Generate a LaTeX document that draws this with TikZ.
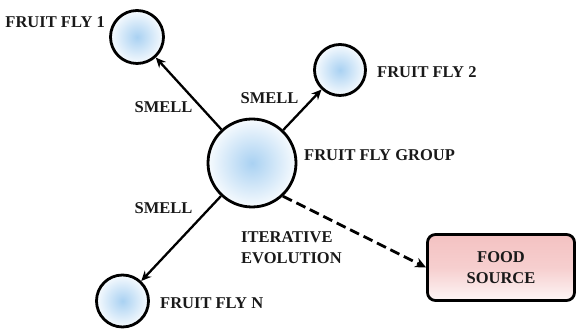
\documentclass[tikz,border=0pt]{standalone}
\usepackage{fontspec}
\setmainfont{Liberation Serif}
\usetikzlibrary{arrows.meta}
\definecolor{flyblue}{HTML}{A9D1F2}
\definecolor{foodpink}{HTML}{F4C2C2}
\tikzset{
  fly/.style={circle, draw=black, line width=2.8pt, minimum size=#1,
    inner color=flyblue, outer color=white!90!flyblue, inner sep=0pt},
  lbl/.style={font=\bfseries\fontsize{16.5}{21}\selectfont, inner sep=0pt, text=black!90},
  link/.style={line width=2.3pt, -{Stealth[length=10pt,width=9pt]}},
  trail/.style={line width=2.8pt, dash pattern=on 10pt off 5pt, -{Stealth[length=11pt,width=10pt]}},
  foodbox/.style={draw=black, line width=2.8pt, rounded corners=8pt,
    minimum width=147pt, minimum height=66pt,
    top color=foodpink, bottom color=white!85!foodpink, middle color=foodpink!80, align=center}
}
\begin{document}
\begin{tikzpicture}[x=1pt,y=1pt]
  \useasboundingbox (0,0) rectangle (578,336);
  % fly group and individual flies
  \node[fly=88pt] (group) at (252,173) {};
  \node[fly=53pt] (f1) at (137,299) {};
  \node[fly=51pt] (f2) at (340,266) {};
  \node[fly=52pt] (fn) at (122.5,35) {};
  \node[foodbox, lbl] (food) at (501,68.5) {FOOD\\SOURCE};
  % labels
  \node[lbl, anchor=east] (l1) at (105,314) {FRUIT FLY 1};
  \node[lbl, anchor=west] (l2) at (377,264) {FRUIT FLY 2};
  \node[lbl, anchor=west] (lg) at (304,181) {FRUIT FLY GROUP};
  \node[lbl, anchor=west] (ln) at (160,33) {FRUIT FLY N};
  \node[lbl] (s1) at (163.5,229) {SMELL};
  \node[lbl] (s2) at (269.5,238) {SMELL};
  \node[lbl] (s3) at (163.5,128) {SMELL};
  \node[lbl, anchor=west, align=left] (it) at (241,88.5) {ITERATIVE\\EVOLUTION};
  % connectors
  \draw[link] (group) -- (f1);
  \draw[link] (group) -- (f2);
  \draw[link] (group) -- (fn);
  \draw[trail] (group.-47) -- (food.west);
\end{tikzpicture}
\end{document}
